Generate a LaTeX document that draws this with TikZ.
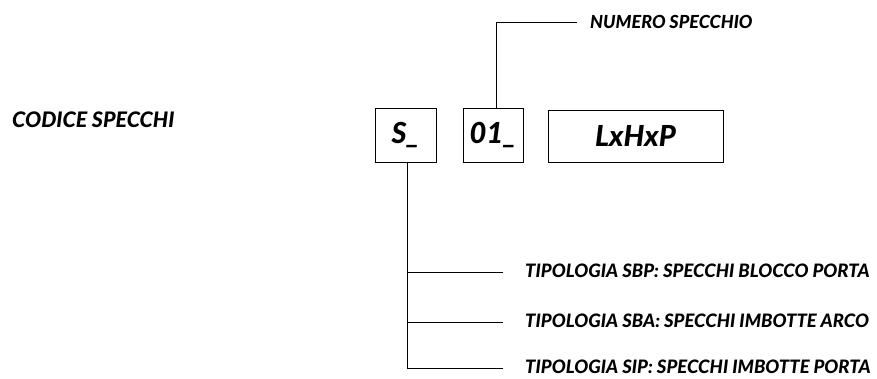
\documentclass[tikz,border=0pt]{standalone}
\usepackage{fontspec}
\setmainfont{Lato}
\newfontfamily\heavy{Lato Black Italic}
\begin{document}
\begin{tikzpicture}[x=1pt,y=-1pt,
  lbl/.style={font=\fontsize{18}{21}\heavy, inner sep=0pt, anchor=west},
  tlbl/.style={font=\fontsize{18.5}{21}\heavy, inner sep=0pt, anchor=west},
  codebox/.style={draw, line width=0.9pt, font=\fontsize{29}{32}\heavy, inner sep=0pt},
  conn/.style={line width=0.9pt}]
\useasboundingbox (0,0) rectangle (877,378);
\node[lbl, font=\fontsize{21.4}{24}\heavy] (codice) at (12,120) {CODICE SPECCHI};
\node[codebox, minimum width=61pt, minimum height=54pt] (s) at (405.5,135) {S\_};
\node[codebox, minimum width=60pt, minimum height=54pt] (n) at (493,135) {01\_};
\node[codebox, minimum width=175pt, minimum height=52pt] (l) at (635.5,136) {LxHxP};
\coordinate (ncorner) at (496,22);
\coordinate (nend) at (577,22);
\node[lbl] (numero) at (590,22) {NUMERO SPECCHIO};
\draw[conn] (n.north -| ncorner) -- (ncorner) -- (nend);
\coordinate (b1) at (407,272);
\coordinate (b2) at (407,322);
\coordinate (b3) at (407,368);
\coordinate (e1) at (503,272);
\coordinate (e2) at (503,322);
\coordinate (e3) at (503,368);
\node[tlbl] (t1) at (525,271) {TIPOLOGIA SBP: SPECCHI BLOCCO PORTA};
\node[tlbl] (t2) at (525,321) {TIPOLOGIA SBA: SPECCHI IMBOTTE ARCO};
\node[tlbl] (t3) at (525,367) {TIPOLOGIA SIP: SPECCHI IMBOTTE PORTA};
\draw[conn] (s.south -| b3) -- (b3) -- (e3);
\draw[conn] (b1) -- (e1);
\draw[conn] (b2) -- (e2);
\end{tikzpicture}
\end{document}
